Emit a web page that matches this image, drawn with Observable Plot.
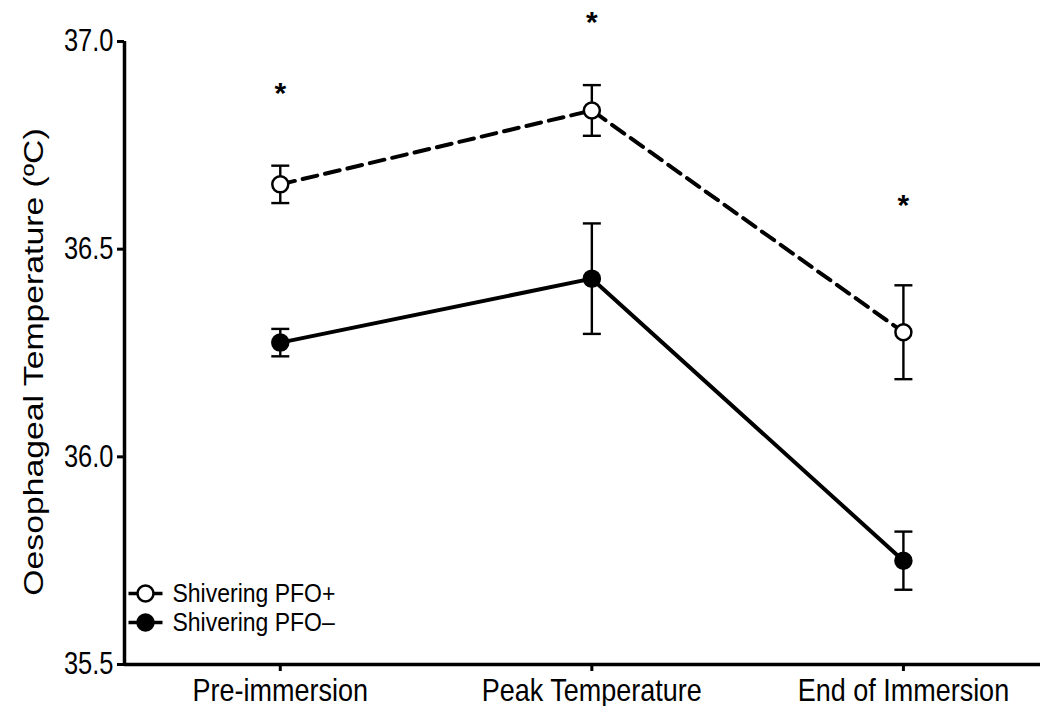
<!DOCTYPE html>
<html>
<head>
<meta charset="utf-8">
<script src="https://cdn.jsdelivr.net/npm/d3@7"></script>
<script src="https://cdn.jsdelivr.net/npm/@observablehq/plot@0.6"></script>
<style>
  html, body { margin: 0; padding: 0; background: #fff; }
</style>
</head>
<body>
<div id="chart"></div>
<script>
// Oesophageal temperature at three time points, mean ± SEM
const categories = ["Pre-immersion", "Peak Temperature", "End of Immersion"];
const seriesNames = ["Shivering PFO+", "Shivering PFO–"];
const pfoPosMean = [36.656, 36.834, 36.300];
const pfoPosErr  = [0.045, 0.061, 0.113];
const pfoNegMean = [36.275, 36.429, 35.750];
const pfoNegErr  = [0.033, 0.133, 0.070];
// level of the significance markers (*) above each time point
const sigLevel = [36.89, 37.06, 36.62];
const yTicks = [35.5, 36.0, 36.5, 37.0];
const yLabel = "Oesophageal Temperature (ºC)";

const xDomain = [-0.5, 2.44];

function rows(means, errs, series) {
  return means.map((m, i) => ({i, category: categories[i], mean: m, lo: m - errs[i], hi: m + errs[i], series}));
}
const pos = rows(pfoPosMean, pfoPosErr, seriesNames[0]);
const neg = rows(pfoNegMean, pfoNegErr, seriesNames[1]);
const all = pos.concat(neg);

// horizontal cap for the error bars
const capSymbol = {draw(ctx) { ctx.moveTo(-9, 0); ctx.lineTo(9, 0); }};
// short line segment drawn behind each legend marker
const legendSeg = {draw(ctx) { ctx.moveTo(-17, 0); ctx.lineTo(17, 0); }};

const font = "'Liberation Sans', Arial, Helvetica, sans-serif";

const legendMarks = seriesNames.flatMap((name, k) => {
  const dy = -71 + k * 29;
  return [
    Plot.dot([name], {frameAnchor: "bottom-left", dx: 21, dy, symbol: legendSeg, stroke: "black", strokeWidth: 3.5}),
    Plot.dot([name], {frameAnchor: "bottom-left", dx: 21, dy, r: 8, fill: k === 0 ? "white" : "black", stroke: "black", strokeWidth: 2.5}),
    Plot.text([name], {frameAnchor: "bottom-left", dx: 48, dy, text: d => d, textAnchor: "start", lineAnchor: "middle", fontSize: 23, fill: "black"})
  ];
});

const chart = Plot.plot({
  width: 1040,
  height: 706,
  marginLeft: 124,
  marginRight: 0,
  marginTop: 41,
  marginBottom: 42,
  style: {fontFamily: font, color: "black", background: "white", overflow: "visible"},
  x: {type: "linear", domain: xDomain, axis: null},
  y: {domain: [yTicks[0], yTicks[yTicks.length - 1]], axis: null},
  marks: [
    Plot.axisY({ticks: yTicks, tickFormat: d3.format(".1f"), tickSize: 7, tickPadding: 4, fontSize: 25.5, strokeWidth: 3, label: null}),
    Plot.axisX({ticks: categories.map((c, i) => i), tickFormat: i => categories[i], tickSize: 7, tickPadding: 7, fontSize: 27, strokeWidth: 3, label: null}),
    Plot.ruleX([xDomain[0]], {strokeWidth: 3.5}),
    Plot.ruleY([yTicks[0]], {strokeWidth: 3.5}),
    Plot.text([yLabel], {frameAnchor: "left", dx: -90, dy: 9, rotate: -90, fontSize: 27, textAnchor: "middle", lineAnchor: "middle", text: d => d, fill: "black"}),
    // connecting lines
    Plot.line(pos, {x: "i", y: "mean", stroke: "black", strokeWidth: 4, strokeDasharray: "15,8"}),
    Plot.line(neg, {x: "i", y: "mean", stroke: "black", strokeWidth: 4}),
    // error bars
    Plot.ruleX(all, {x: "i", y1: "lo", y2: "hi", stroke: "black", strokeWidth: 2.4}),
    Plot.dot(all, {x: "i", y: "lo", symbol: capSymbol, stroke: "black", strokeWidth: 2.4}),
    Plot.dot(all, {x: "i", y: "hi", symbol: capSymbol, stroke: "black", strokeWidth: 2.4}),
    // means
    Plot.dot(pos, {x: "i", y: "mean", r: 8, fill: "white", stroke: "black", strokeWidth: 2.5}),
    Plot.dot(neg, {x: "i", y: "mean", r: 8, fill: "black", stroke: "black", strokeWidth: 2.5}),
    // significance markers
    Plot.text(sigLevel, {x: (d, i) => i, y: d => d, text: () => "*", fontSize: 30, fontWeight: "bold", lineAnchor: "middle", dy: 6, fill: "black"}),
    ...legendMarks
  ]
});

// Labels are set in a tall face: stretch each text along its height,
// about its own anchor point (the asterisks keep their natural shape).
function stretchFor(s) {
  if (s === "*") return 1;
  if (s === yLabel) return 1.25;
  if (categories.includes(s) || seriesNames.includes(s)) return 1.15;
  return 1.2;
}
const num = v => (v != null && /^\s*-?[\d.]+\s*$/.test(v)) ? +v : 0;
chart.querySelectorAll("text").forEach(t => {
  const k = stretchFor(t.textContent.trim());
  if (k === 1) return;
  const tr = t.getAttribute("transform") || "";
  const x = num(t.getAttribute("x")), y = num(t.getAttribute("y"));
  const rotated = /rotate\(\s*-?90/.test(tr);
  const sc = rotated ? `scale(${k},1)` : `scale(1,${k})`;
  const around = (x || y) ? `translate(${x},${y}) ${sc} translate(${-x},${-y})` : sc;
  t.setAttribute("transform", `${tr} ${around}`.trim());
});

document.getElementById("chart").appendChild(chart);
</script>
</body>
</html>
